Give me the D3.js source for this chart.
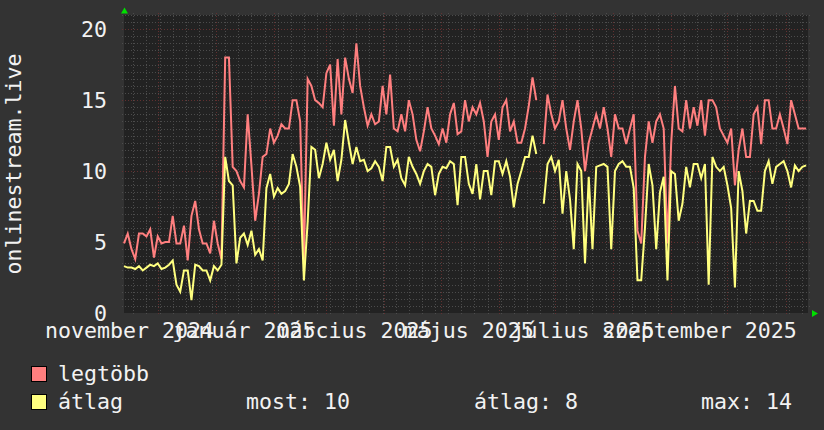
<!DOCTYPE html>
<html><head><meta charset="utf-8">
<script src="https://cdn.jsdelivr.net/npm/d3@7"></script>
<style>body{margin:0;background:#333333;} svg{display:block}</style>
</head><body><svg id="c" width="824" height="430"></svg>
<script>
// ---- data ----
const startDate = "2024-11-13";
const endDate = "2025-11-13";
const stepDays = 2;
const maxVals = [
 4.9,5.6,4.5,3.8,5.6,5.6,5.4,5.9,3.9,5.4,
 4.9,5.0,5.0,6.85,4.9,4.9,6.15,3.7,6.85,7.9,
 5.9,4.9,4.9,4.2,6.5,4.9,3.8,18.0,18.0,10.3,
 10.0,9.3,8.85,14.0,10.4,6.5,8.4,
 11.0,11.2,13.0,12.0,12.5,13.3,13.0,13.0,15.0,15.0,
 13.5,3.5,16.5,16.0,15.0,14.8,14.5,16.9,17.5,13.2,
 17.9,14.0,18.0,16.5,15.5,19.0,16.0,14.5,13.2,14.0,
 13.3,13.5,16.0,14.0,16.8,13.0,
 12.8,14.0,12.8,15.0,14.0,12.2,11.4,12.8,14.5,13.0,
 12.5,11.9,13.0,12.0,14.0,14.8,12.6,12.8,15.0,13.5,
 14.5,14.0,14.8,13.5,11.0,13.5,14.0,12.2,14.5,15.0,
 12.8,13.5,12.0,12.0,13.0,14.6,16.6,
 15.0,null,11.9,15.4,14.0,13.0,13.5,15.0,13.0,11.5,
 13.5,15.0,13.0,10.0,12.0,13.0,14.0,13.0,14.5,13.0,
 11.0,14.0,13.0,13.0,11.9,13.0,14.0,5.8,4.9,11.0,
 13.5,12.0,13.5,14.0,13.0,4.9,
 12.0,16.0,13.0,12.8,15.0,13.0,14.5,13.2,15.0,12.5,
 15.0,15.0,14.5,13.0,12.5,12.0,13.0,9.0,11.5,13.0,
 11.0,11.0,14.0,14.5,11.9,15.0,15.0,13.0,13.0,14.0,
 13.0,11.9,15.0,14.0,13.0,13.0,13.0
];
const avgVals = [
 3.3,3.2,3.2,3.1,3.3,3.0,3.2,3.4,3.3,3.5,
 3.1,3.2,3.4,3.7,2.0,1.5,3.0,3.0,0.9,3.4,
 3.3,3.0,3.0,2.3,3.3,3.0,3.4,11.0,9.3,9.0,
 3.5,5.3,5.6,4.8,5.8,4.1,4.5,
 3.7,8.8,9.8,8.2,8.8,8.4,8.6,9.1,11.2,10.3,
 8.9,2.3,6.4,11.7,11.5,9.5,10.5,12.0,10.8,11.5,
 9.3,10.8,13.6,12.0,10.5,11.7,10.7,10.8,10.0,10.2,
 10.7,10.3,9.3,11.7,11.7,10.3,
 10.8,9.5,9.0,11.0,10.3,9.8,9.1,10.0,10.5,10.3,
 8.3,9.8,10.3,10.2,10.7,10.5,7.6,11.0,11.0,9.1,
 8.4,10.5,8.0,10.0,10.0,8.3,10.7,10.7,9.8,10.7,
 9.6,7.45,9.1,10.0,11.0,11.0,12.5,
 11.2,null,7.7,10.5,11.0,10.0,10.8,7.0,10.0,8.0,
 4.5,10.5,10.0,3.5,9.6,4.5,10.3,10.4,10.5,10.3,
 4.5,10.0,10.5,10.7,10.3,10.3,8.8,2.3,2.3,6.0,
 10.5,9.0,4.5,8.5,9.6,2.3,
 10.0,9.8,6.5,7.7,10.3,8.85,10.5,10.5,9.5,10.5,
 2.0,11.0,10.3,10.0,10.3,9.0,7.4,1.8,10.0,8.6,
 5.6,7.9,7.9,7.2,7.2,10.0,10.7,9.1,10.3,10.5,
 10.7,10.0,8.85,10.4,10.0,10.3,10.4
];
const yTicks = [0, 5, 10, 15, 20];
const yMax = 21;
const xTickDates = ["2024-11-16","2025-01-16","2025-03-16","2025-05-16","2025-07-16","2025-09-16"];
const xTickLabels = ["november 2024","január 2025","március 2025","május 2025","július 2025","szeptember 2025"];
const yTitle = "onlinestream.live";
const seriesNames = ["legtöbb", "átlag"];
const seriesColors = ["#ff7f7f", "#ffff7f"];
const statLabels = ["most: 10", "átlag: 8", "max: 14"];

// ---- layout ----
const L = 124, R = 808, T = 15, B = 313;
const FONT = "DejaVu Sans Mono";
const FS = 21.6;
const TXT = "#f2f2f2";

const svg = d3.select("#c");
svg.append("rect").attr("width", 824).attr("height", 430).attr("fill", "#333333");
svg.append("rect").attr("x", L).attr("y", T).attr("width", R - L).attr("height", B - T).attr("fill", "#222222");

const parse = d3.utcParse("%Y-%m-%d");
const t0 = parse(startDate), t1 = parse(endDate);
const x = d3.scaleUtc().domain([t0, t1]).range([L, R]);
const y = d3.scaleLinear().domain([0, yMax]).range([B, T]);

const grid = svg.append("g").attr("shape-rendering", "crispEdges");
const minorC = "#4c4c4c", majorC = "#623030";
// horizontal grid
d3.range(0, yMax + 0.001, 0.5).forEach(v => {
  const major = yTicks.includes(v);
  if (v === 0) return;
  const yy = Math.round(y(v)) + 0.5;
  grid.append("line").attr("x1", L - 2).attr("x2", R + 2).attr("y1", yy).attr("y2", yy)
    .attr("stroke", major ? majorC : minorC).attr("stroke-dasharray", "1,2");
});
// vertical grid: weeks (minor) and months (major)
const months = d3.utcMonth.range(d3.utcMonth.ceil(t0), t1);
const monthKeys = new Set(months.map(d => +d));
d3.utcMonday.range(t0, t1).forEach(d => {
  if (monthKeys.has(+d)) return;
  const xx = Math.round(x(d)) + 0.5;
  grid.append("line").attr("x1", xx).attr("x2", xx).attr("y1", T - 2).attr("y2", B + 2)
    .attr("stroke", minorC).attr("stroke-dasharray", "1,2");
});
months.forEach(d => {
  const xx = Math.round(x(d)) + 0.5;
  grid.append("line").attr("x1", xx).attr("x2", xx).attr("y1", T - 2).attr("y2", B + 2)
    .attr("stroke", majorC).attr("stroke-dasharray", "1,2");
});

// y labels
yTicks.forEach(v => {
  svg.append("text").attr("x", 107).attr("y", y(v) + 8).attr("text-anchor", "end")
    .attr("font-family", FONT).attr("font-size", FS).attr("fill", TXT).text(v);
});
// x labels
xTickDates.forEach((ds, i) => {
  svg.append("text").attr("x", x(parse(ds))).attr("y", 338).attr("text-anchor", "middle")
    .attr("font-family", FONT).attr("font-size", FS).attr("fill", TXT).text(xTickLabels[i]);
});
// y title
svg.append("text").attr("transform", "translate(21,164) rotate(-90)").attr("text-anchor", "middle")
  .attr("font-family", FONT).attr("font-size", FS).attr("fill", TXT).text(yTitle);

// series
const dates = maxVals.map((_, i) => d3.utcDay.offset(t0, i * stepDays));
const line = d3.line().defined(d => d.v !== null).x(d => x(d.t)).y(d => y(d.v));
[maxVals, avgVals].forEach((vals, si) => {
  svg.append("path").datum(vals.map((v, i) => ({t: dates[i], v})))
    .attr("d", line).attr("fill", "none").attr("stroke", seriesColors[si])
    .attr("stroke-width", 2).attr("stroke-linejoin", "miter");
});

// arrows
svg.append("path").attr("d", "M121,13.5L128,13.5L124.5,7.5Z").attr("fill", "#00e000");
svg.append("path").attr("d", "M812,310L812,317L818,313.5Z").attr("fill", "#00e000");

// legend
seriesNames.forEach((n, i) => {
  const yy = 366 + i * 28;
  svg.append("rect").attr("x", 31.5).attr("y", yy + 0.5).attr("width", 15).attr("height", 15)
    .attr("fill", seriesColors[i]).attr("stroke", "#000").attr("stroke-width", 1);
  svg.append("text").attr("x", 58).attr("y", yy + 15).attr("font-family", FONT).attr("font-size", FS)
    .attr("fill", TXT).text(n);
});
const statX = [246, 474, 701];
statLabels.forEach((s, i) => {
  svg.append("text").attr("x", statX[i]).attr("y", 409).attr("font-family", FONT).attr("font-size", FS)
    .attr("fill", TXT).text(s);
});
</script>
</body></html>
